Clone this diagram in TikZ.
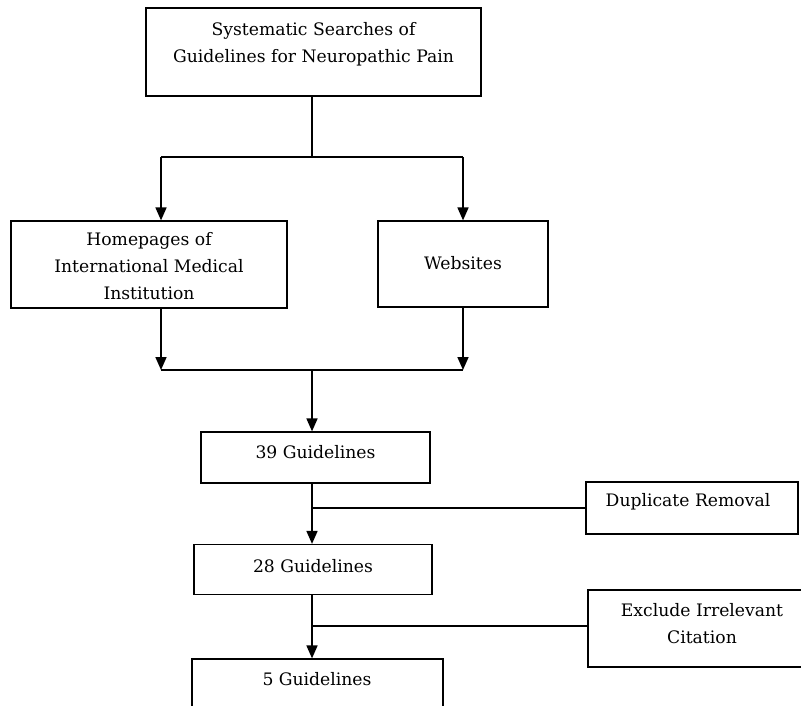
\documentclass[tikz,border=0pt]{standalone}
\usepackage{fontspec}
\setmainfont{DejaVu Serif}
\usetikzlibrary{arrows.meta}
\begin{document}
\begin{tikzpicture}[x=1pt,y=-1pt,
  box/.style={draw=black,line width=1.2pt,fill=white,inner sep=0pt},
  txt/.style={align=center,inner sep=0pt,font=\fontsize{17.2}{27}\selectfont},
  conn/.style={line width=1.7pt},
  arr/.style={line width=1.7pt,-{Triangle[length=13pt,width=11pt]}}]
\useasboundingbox (0,0) rectangle (801,706);
\clip (0,0) rectangle (801,706);
% boxes
\node[box,minimum width=335pt,minimum height=88pt] (top) at (313.5,52) {};
\node[txt] (toptxt) at (313.5,44) {Systematic Searches of\\Guidelines for Neuropathic Pain};
\node[box,minimum width=276pt,minimum height=87pt] (left) at (149,264.5) {};
\node[txt] (lefttxt) at (149,266.5) {Homepages of\\International Medical\\Institution};
\node[box,minimum width=170pt,minimum height=86pt] (right) at (463,264) {};
\node[txt] (righttxt) at (463,263) {Websites};
\node[box,minimum width=229pt,minimum height=51pt] (g39) at (315.5,457.5) {};
\node[txt] (g39txt) at (315.5,452) {39 Guidelines};
\node[box,minimum width=212pt,minimum height=52pt] (dup) at (692,508) {};
\node[txt] (duptxt) at (688,502) {Duplicate Removal};
\node[box,minimum width=238pt,minimum height=50pt] (g28) at (313,569.5) {};
\node[txt] (g28txt) at (313,566) {28 Guidelines};
\node[box,minimum width=214pt,minimum height=77pt] (exc) at (695,628.5) {};
\node[txt] (exctxt) at (702,623.5) {Exclude Irrelevant\\Citation};
\node[box,minimum width=251pt,minimum height=80pt] (g5) at (317.5,699) {};
\node[txt] (g5txt) at (317,679) {5 Guidelines};
% junction coordinates
\coordinate (jt) at (312,157);
\coordinate (jl) at (161,157);
\coordinate (jr) at (463,157);
\coordinate (ml) at (161,370);
\coordinate (mr) at (463,370);
\coordinate (mc) at (312,370);
% connectors
\draw[conn] (top.south -| jt) -- (jt);
\draw[conn] (jl) -- (jr);
\draw[arr] (jl) -- (jl |- left.north);
\draw[arr] (jr) -- (right.north);
\draw[arr] (jl |- left.south) -- (ml);
\draw[arr] (right.south) -- (mr);
\draw[conn] (ml) -- (mr);
\draw[arr] (mc) -- (mc |- g39.north);
\draw[arr] (mc |- g39.south) -- (mc |- g28.north);
\draw[conn] (mc |- dup.west) -- (dup.west);
\draw[arr] (mc |- g28.south) -- (mc |- g5.north);
\draw[conn] (312,626) -- (exc.west |- 312,626);
\end{tikzpicture}
\end{document}
